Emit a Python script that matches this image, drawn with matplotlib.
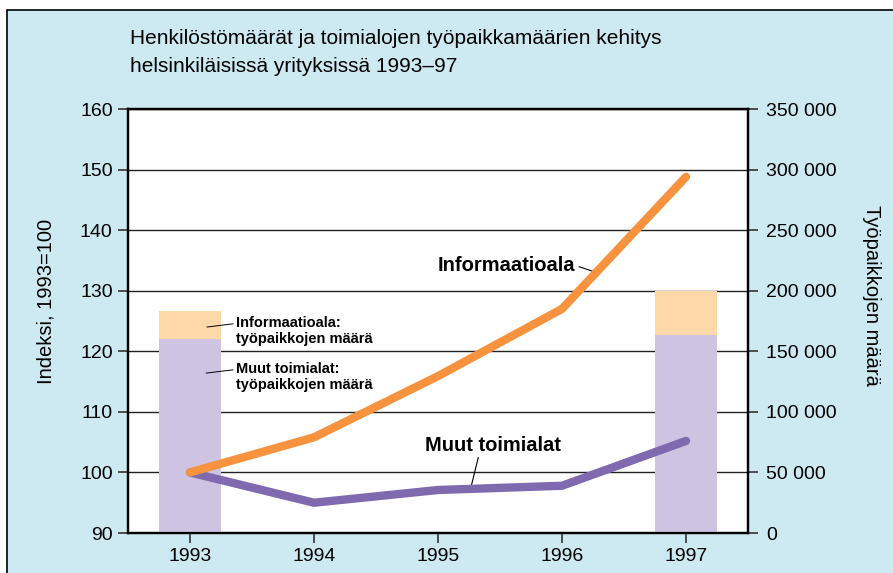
import matplotlib.pyplot as plt
from matplotlib.patches import Rectangle
from matplotlib.ticker import FuncFormatter

plt.rcParams['font.family'] = ['Liberation Sans', 'DejaVu Sans']

# data
years = [1993, 1994, 1995, 1996, 1997]
info_index = [100, 105.8, 115.9, 127.0, 148.8]
muut_index = [100, 95.0, 97.1, 97.8, 105.2]

bar_years = [1993, 1997]
muut_jobs = [160000, 163500]
info_jobs = [23000, 36500]

left_ticks = [90, 100, 110, 120, 130, 140, 150, 160]
right_ticks = [0, 50000, 100000, 150000, 200000, 250000, 300000, 350000]

orange = '#f7923f'
purple = '#7f6aaf'
bar_purple = '#cec3e0'
bar_peach = '#fdd8a9'
bg = '#cdeaf2'

fig = plt.figure(figsize=(8.93, 5.73), dpi=100, facecolor='white')
# light blue panel, only left and top edge visible
fig.patches.append(Rectangle((7/893, -0.1), 1.2, 1.1 - 10/573, transform=fig.transFigure,
                             facecolor=bg, edgecolor='black', linewidth=1.2, zorder=-10))

ax = fig.add_axes([128/893, 1 - 533/573, 620/893, 424/573])
ax2 = ax.twinx()

# bars + grid on the right axis (drawn underneath)
ax2.patch.set_visible(True)
ax2.patch.set_facecolor('white')
ax2.bar(bar_years, muut_jobs, width=0.5, color=bar_purple, zorder=3)
ax2.bar(bar_years, info_jobs, width=0.5, bottom=muut_jobs, color=bar_peach, zorder=3)
ax2.set_ylim(0, 350000)
ax2.set_yticks(right_ticks)
ax2.yaxis.set_major_formatter(FuncFormatter(lambda v, p: f'{int(v):,}'.replace(',', ' ')))
ax2.grid(axis='y', color='#222222', linewidth=1.0, zorder=0)
ax2.set_axisbelow(True)
ax2.set_ylabel('Työpaikkojen määrä', fontsize=14.5, rotation=270, va='center')
ax2.yaxis.set_label_coords(1.2, 0.56)

# lines on the left axis (on top)
ax.set_zorder(ax2.get_zorder() + 1)
ax.patch.set_visible(False)
ax.plot(years, info_index, color=orange, linewidth=6, solid_capstyle='round',
        solid_joinstyle='miter', zorder=5)
ax.plot(years, muut_index, color=purple, linewidth=6, solid_capstyle='round',
        solid_joinstyle='miter', zorder=4)
ax.set_xlim(1992.5, 1997.5)
ax.set_ylim(90, 160)
ax.set_yticks(left_ticks)
ax.set_xticks(years)
ax.set_ylabel('Indeksi, 1993=100', fontsize=14.5, va='center')
ax.yaxis.set_label_coords(-0.132, 0.545)

for a in (ax, ax2):
    for s in a.spines.values():
        s.set_linewidth(1.6)
        s.set_color('black')
    a.tick_params(labelsize=14, length=7, width=1.2, color='#333333')
ax.tick_params(axis='x', pad=4)
ax2.tick_params(axis='y', pad=6)
ax.tick_params(axis='y', pad=4)

# labels
ax.annotate('Informaatioala', xy=(1996.25, 133.2), xytext=(1995.55, 134.2),
            fontsize=14.5, fontweight='bold', ha='center', va='center',
            arrowprops=dict(arrowstyle='-', color='black', lw=0.8, shrinkA=1, shrinkB=0,
                            relpos=(1, 0.5)))
ax.annotate('Muut toimialat', xy=(1995.27, 97.9), xytext=(1995.44, 104.5),
            fontsize=14.5, fontweight='bold', ha='center', va='center',
            arrowprops=dict(arrowstyle='-', color='black', lw=0.8, shrinkA=0, shrinkB=0,
                            relpos=(0.4, 0)))
ax.annotate('Informaatioala:\ntyöpaikkojen määrä', xy=(1993.137, 124.0), xytext=(1993.37, 123.35),
            fontsize=10.5, fontweight='bold', ha='left', va='center', linespacing=1.2,
            arrowprops=dict(arrowstyle='-', color='black', lw=0.7, shrinkA=0, shrinkB=0,
                            relpos=(0, 0.75)))
ax.annotate('Muut toimialat:\ntyöpaikkojen määrä', xy=(1993.13, 116.4), xytext=(1993.37, 115.75),
            fontsize=10.5, fontweight='bold', ha='left', va='center', linespacing=1.2,
            arrowprops=dict(arrowstyle='-', color='black', lw=0.7, shrinkA=0, shrinkB=0,
                            relpos=(0, 0.75)))

fig.text(130/893, 1 - 52/573, 'Henkilöstömäärät ja toimialojen työpaikkamäärien kehitys\n'
         'helsinkiläisissä yrityksissä 1993–97', fontsize=15, ha='left', va='center',
         linespacing=1.6)

fig.savefig('out.png', dpi=100, facecolor=fig.get_facecolor())
